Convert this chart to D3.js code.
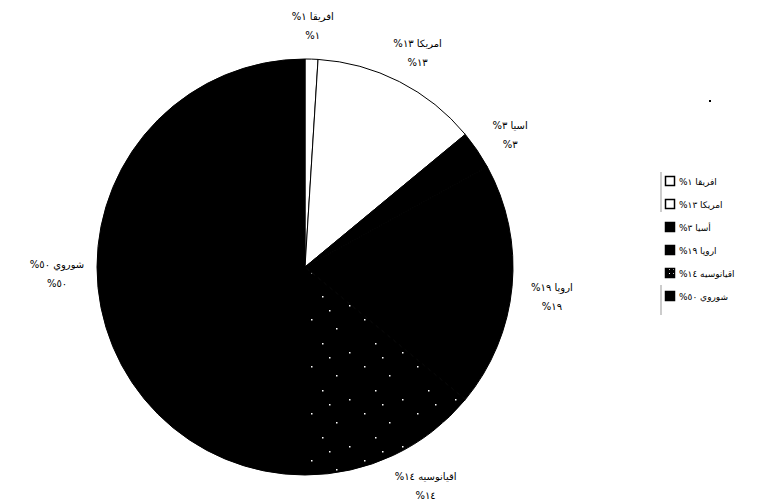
<!DOCTYPE html>
<html><head><meta charset="utf-8">
<script src="https://cdn.jsdelivr.net/npm/d3@7"></script>
<style>body{margin:0;background:#fff}svg{display:block}text{font-family:"DejaVu Sans",sans-serif;font-size:10px;fill:#000}.lgt{font-size:9px}</style>
</head><body><svg id="c" width="761" height="500"></svg>
<script>
const categories = ["افريقا","امريكا","اسيا","اروپا","اقيانوسيه","شوروي"];
const legendNames = ["افريقا","امريکا","أسيا","اروپا","اقيانوسيه","شوروي"];
const values = [1,13,3,19,14,50];
const percentLabels = ["١","١٣","٣","١٩","١٤","٥٠"];
const fills = ["#fff","#fff","#000","#000","url(#dots)","#000"];

const svg = d3.select("#c");
const defs = svg.append("defs");
const pat = defs.append("pattern").attr("id","dots").attr("patternUnits","userSpaceOnUse").attr("width",53).attr("height",47);
pat.append("rect").attr("width",53).attr("height",47).attr("fill","#000");
[[6,5],[31,14],[17,29],[44,38],[24,43]].forEach(p=>
  pat.append("rect").attr("x",p[0]).attr("y",p[1]).attr("width",1.5).attr("height",1.5).attr("fill","#fff"));
const pat2 = defs.append("pattern").attr("id","lgpat").attr("patternUnits","userSpaceOnUse").attr("width",4).attr("height",4);
pat2.append("rect").attr("width",4).attr("height",4).attr("fill","#000");
pat2.append("rect").attr("x",1).attr("y",1).attr("width",1).attr("height",1).attr("fill","#fff");

const cx = 305, cy = 267, r = 208;
const pie = d3.pie().sort(null).value(d => d)(values);
const arc = d3.arc().innerRadius(0).outerRadius(r);
const labelArc = d3.arc().innerRadius(248).outerRadius(248);
const g = svg.append("g").attr("transform",`translate(${cx},${cy})`);
g.selectAll("path").data(pie).join("path")
  .attr("d",arc).attr("fill",(d,i)=>fills[i]).attr("stroke","#000").attr("stroke-width",1);

const lbl = g.selectAll("g.lbl").data(pie).join("g").attr("class","lbl")
  .attr("transform",d=>{const c=labelArc.centroid(d);return `translate(${c[1]>200?c[0]+15:c[0]},${Math.min(c[1],212)})`;});
lbl.append("text").attr("direction","rtl").attr("text-anchor","middle").attr("y",1)
  .text((d,i)=>categories[i]+" "+percentLabels[i]+"%");
lbl.append("text").attr("direction","rtl").attr("text-anchor","middle").attr("y",20)
  .text((d,i)=>percentLabels[i]+"%");

// legend
const lg = svg.append("g");
const rowY = d3.scaleLinear().domain([0,5]).range([181,296]);
const legendFills = ["#fff","#fff","#000","#000","url(#lgpat)","#000"];
lg.append("line").attr("x1",661).attr("x2",661).attr("y1",172).attr("y2",212).attr("stroke","#999");
lg.append("line").attr("x1",661).attr("x2",661).attr("y1",285).attr("y2",315).attr("stroke","#999");
categories.forEach((c,i)=>{
  const y = rowY(i);
  lg.append("rect").attr("x",665.5).attr("y",y-4.5).attr("width",9).attr("height",9)
    .attr("fill",legendFills[i]).attr("stroke","#000").attr("stroke-width",1.5);
  lg.append("text").attr("class","lgt").attr("direction","rtl").attr("text-anchor","end").attr("x",679).attr("y",y+4)
    .text(legendNames[i]+" "+percentLabels[i]+"%");
});
svg.append("rect").attr("x",709).attr("y",100).attr("width",2).attr("height",2).attr("fill","#000");
</script></body></html>
